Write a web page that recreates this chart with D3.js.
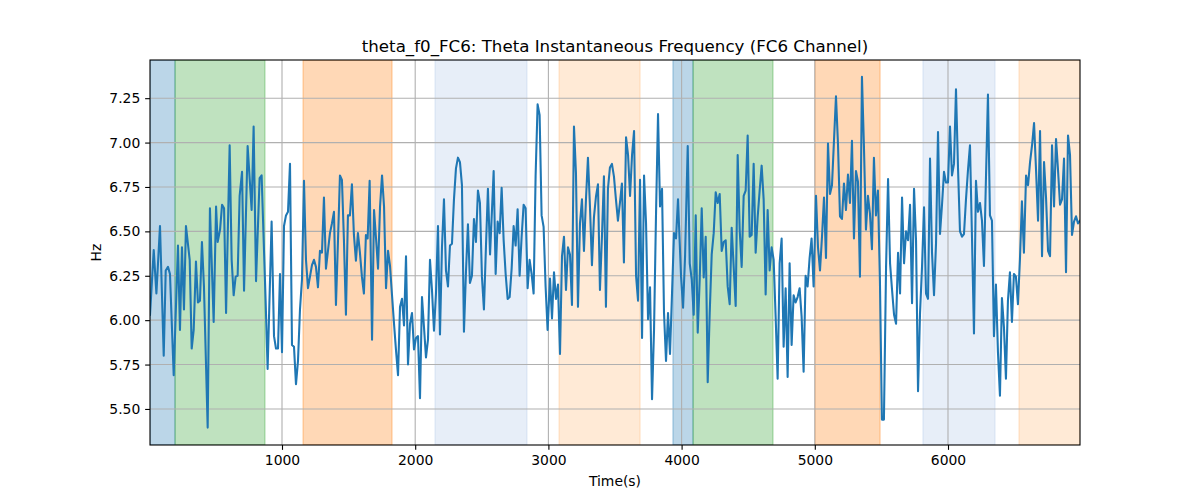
<!DOCTYPE html>
<html><head><meta charset="utf-8">
<script src="https://cdn.jsdelivr.net/npm/d3@7"></script>
<style>body{margin:0;background:#fff;} text{font-family:"DejaVu Sans",sans-serif;fill:#000;}</style>
</head><body>
<svg id="chart" width="1200" height="500"></svg>
<script>
const times = [9,37,57,84,112,127,144,159,187,219,234,249,264,279,307,322,337,354,369,384,399,414,442,459,487,505,517,535,550,565,580,607,622,637,652,667,682,700,715,742,772,787,805,832,847,877,892,922,940,955,970,985,1000,
1015,1030,1045,1060,1075,1090,1105,1120,1135,1150,1165,1180,1195,1210,1225,1240,1255,1270,1285,1300,1315,1330,1345,1360,1375,1390,1405,1420,1435,1450,1465,1480,1495,1510,1525,1540,1555,1570,1585,1600,1615,1630,1643,1658,1676,1691,1706,1721,1736,1751,1766,1781,1796,1811,1826,1841,1856,1871,1886,1901,1916,1931,1946,1961,1976,1991,
2006,2021,2036,2051,2066,2081,2096,2111,2126,2141,2156,2171,2186,2201,2216,2231,2246,2261,2276,2291,2306,2321,2336,2351,2366,2381,2396,2411,2426,2441,2456,2471,2486,2501,2516,2531,2546,2562,2577,2589,2604,2619,2634,2649,2664,2679,2694,2709,2724,2739,2754,2769,2784,2799,2814,2829,2844,2859,2874,2889,2904,2919,2934,2949,2964,2979,2994,
3012,3027,3042,3057,3072,3087,3102,3117,3132,3147,3162,3177,3192,3207,3222,3237,3252,3267,3282,3297,3312,3327,3342,3357,3372,3387,3402,3417,3432,3447,3462,3477,3492,3507,3522,3537,3552,3567,3583,3598,3613,3628,3643,3658,3673,3688,3703,3718,3733,3748,3763,3778,3793,3808,3823,3838,3853,3868,3883,3898,3913,3928,3943,3958,3973,
3996,4011,4026,4046,4061,4076,4091,4106,4121,4136,4151,4166,4181,4196,4211,4226,4241,4256,4271,4286,4301,4316,4331,4346,4361,4376,4391,4406,4421,4436,4451,4466,4481,4496,4511,4526,4541,4556,4571,4586,4601,4616,4631,4646,4661,4676,4691,4706,4721,4736,4751,4766,4781,4796,4811,4826,4841,4856,4871,4886,4901,4916,4931,4946,4961,4976,4991,
5009,5024,5039,5054,5069,5084,5099,5114,5129,5144,5159,5174,5189,5204,5219,5234,5249,5264,5279,5294,5309,5324,5339,5354,5369,5384,5399,5414,5429,5444,5459,5474,5489,5504,5519,5535,5550,5565,5580,5595,5610,5625,5640,5655,5670,5685,5700,5715,5730,5745,5760,5775,5790,5805,5820,5835,5850,5865,5880,5895,5910,5925,5940,5955,5970,5985,
6000,6015,6030,6045,6060,6075,6090,6105,6120,6135,6150,6165,6180,6195,6210,6225,6240,6255,6270,6285,6300,6315,6330,6345,6360,6375,6390,6405,6420,6435,6450,6465,6480,6495,6510,6525,6540,6555,6570,6586,6601,6616,6631,6646,6661,6676,6691,6706,6721,6736,6751,6766,6781,6796,6811,6826,6841,6856,6871,6886,6901,6916,6931,6946,6961,6976,6991];

const freqHz = [6.03,6.395,6.15,6.53,5.80,6.28,6.30,6.26,5.69,6.42,5.945,6.41,6.06,6.53,6.34,5.84,5.945,6.33,6.10,6.11,6.44,6.19,5.395,6.63,5.99,6.64,6.44,6.51,6.65,6.63,6.04,6.985,6.34,6.14,6.245,6.25,6.70,6.835,6.166,6.98,6.62,7.09,6.22,6.80,6.815,6.11,5.725,6.555,5.91,5.84,5.84,6.26,5.82,
6.53,6.59,6.61,6.88,5.86,5.85,5.64,5.77,6.06,6.23,6.785,6.34,6.18,6.245,6.31,6.34,6.30,6.185,6.39,6.38,6.69,6.29,6.39,6.49,6.545,6.61,6.085,6.44,6.815,6.79,6.45,6.03,6.59,6.59,6.765,6.48,6.335,6.49,6.38,6.245,6.15,6.48,6.46,6.785,5.89,6.62,6.46,6.29,6.64,6.815,6.64,6.18,6.39,6.305,6.14,5.98,5.83,5.69,6.075,6.12,5.97,6.36,5.75,5.98,6.04,5.835,
5.90,5.91,5.56,6.13,5.96,5.79,5.89,6.34,6.17,5.94,6.15,6.53,5.92,6.41,6.68,6.28,6.19,6.42,6.43,6.68,6.855,6.915,6.89,6.76,5.935,6.27,6.54,6.21,6.25,6.57,6.44,6.73,6.66,6.245,6.06,6.41,6.74,6.37,6.63,6.84,6.26,6.555,6.49,6.745,6.45,6.26,6.12,6.13,6.29,6.53,6.42,6.625,6.25,6.47,6.65,6.63,6.18,6.34,6.26,6.15,6.815,7.215,7.155,6.59,6.525,6.19,5.945,
6.235,6.01,6.27,6.12,6.20,5.81,6.36,6.47,6.17,6.41,6.37,6.085,7.09,6.825,6.075,6.545,6.68,6.39,6.68,6.915,6.64,6.31,6.58,6.695,6.765,6.17,6.47,6.81,6.075,6.74,6.86,6.88,6.81,6.68,6.56,6.66,6.77,6.325,7.03,6.93,6.70,6.93,7.065,6.25,6.11,6.79,5.90,6.815,6.545,6.005,6.185,5.555,5.945,6.60,7.16,6.64,6.74,6.04,5.77,6.04,5.81,6.15,6.49,6.46,6.68,
6.245,6.07,6.36,6.98,6.32,6.23,6.03,6.59,5.93,6.23,6.63,6.24,6.47,5.65,6.04,6.37,6.49,6.72,6.66,6.71,6.39,6.44,6.45,6.19,6.09,6.52,6.30,6.08,6.93,6.51,6.30,6.70,6.73,7.04,6.47,6.48,6.88,6.38,6.58,6.73,6.87,6.68,6.145,6.62,6.28,6.41,6.34,6.02,5.67,6.32,6.46,5.85,6.18,5.68,6.32,5.86,6.14,6.10,6.13,6.18,6.02,5.71,6.25,6.19,6.35,6.46,6.19,
6.70,6.41,6.28,6.47,6.69,6.35,6.995,6.71,6.76,7.01,7.26,6.995,6.585,6.57,6.77,6.62,6.82,6.66,7.01,6.46,6.84,6.78,6.245,7.37,6.975,6.51,6.70,6.60,6.40,6.915,6.59,6.73,6.22,5.44,5.44,6.30,6.795,6.32,6.17,6.03,5.98,6.38,6.15,6.69,6.32,6.50,6.45,6.65,6.095,6.74,6.45,5.60,6.04,6.30,6.635,6.15,6.12,6.91,6.38,6.14,6.43,7.06,6.485,6.65,6.835,6.775,
6.775,7.09,6.815,6.88,7.30,6.86,6.50,6.47,6.485,6.68,6.845,6.985,6.47,5.925,6.785,6.61,6.66,6.56,6.305,6.80,7.27,6.59,6.56,5.91,6.20,5.82,5.575,6.125,5.96,5.67,6.11,6.27,5.99,6.26,6.245,6.09,6.34,6.67,6.38,6.815,6.76,6.89,6.985,7.11,6.845,6.56,7.065,6.36,6.89,6.69,6.39,6.36,6.985,6.64,7.02,6.845,6.65,6.68,6.91,6.27,7.04,6.93,6.48,6.555,6.585,6.545,6.56];

const spanStarts = [9, 197, 1158, 2149, 3080, 3935, 4086, 5002, 5812, 6533];
const spanEnds   = [197, 872, 1826, 2839, 3688, 4086, 4686, 5490, 6353, 6991];
const spanKinds  = ["blue","green","orange","lightblue","lightorange","blue","green","orange","lightblue","lightorange"];

const xTicks = [1000, 2000, 3000, 4000, 5000, 6000];
const yTicks = [5.50, 5.75, 6.00, 6.25, 6.50, 6.75, 7.00, 7.25];
const yLimits = [5.297, 7.465];

const titleText = "theta_f0_FC6: Theta Instantaneous Frequency (FC6 Channel)";
const xLabelText = "Time(s)";
const yLabelText = "Hz";

const kindColor = {blue:"#1f77b4", green:"#2ca02c", orange:"#ff7f0e", lightblue:"#aec7e8", lightorange:"#ffbb78"};

const svg = d3.select("#chart");
const L = 150, R = 1080, T = 60, B = 445;
const x = d3.scaleLinear().domain(d3.extent(times)).range([L, R]);
const y = d3.scaleLinear().domain(yLimits).range([B, T]);

svg.append("defs").append("clipPath").attr("id","clip")
  .append("rect").attr("x",L).attr("y",T).attr("width",R-L).attr("height",B-T);

const spans = spanStarts.map((s,i)=>({s, e: spanEnds[i], k: spanKinds[i]}));
svg.append("g").attr("clip-path","url(#clip)").selectAll("rect").data(spans).join("rect")
  .attr("x", d=>x(d.s)).attr("width", d=>x(d.e)-x(d.s))
  .attr("y", T).attr("height", B-T)
  .attr("fill", d=>kindColor[d.k]).attr("fill-opacity",0.3)
  .attr("stroke", d=>kindColor[d.k]).attr("stroke-opacity",0.3).attr("stroke-width",1.4);

// grid
const grid = svg.append("g");
grid.selectAll(".gx").data(xTicks).join("line")
  .attr("x1",d=>x(d)).attr("x2",d=>x(d)).attr("y1",T).attr("y2",B)
  .attr("stroke","#b0b0b0").attr("stroke-width",1.1);
grid.selectAll(".gy").data(yTicks).join("line")
  .attr("y1",d=>y(d)).attr("y2",d=>y(d)).attr("x1",L).attr("x2",R)
  .attr("stroke","#b0b0b0").attr("stroke-width",1.1);

// line
const pts = times.map((t,i)=>[t, freqHz[i]]);
svg.append("path").datum(pts).attr("clip-path","url(#clip)")
  .attr("d", d3.line().x(d=>x(d[0])).y(d=>y(d[1])))
  .attr("fill","none").attr("stroke","#1f77b4").attr("stroke-width",2.08)
  .attr("stroke-linejoin","round").attr("stroke-linecap","square");

// axes
const xAxis = d3.axisBottom(x).tickValues(xTicks).tickFormat(d3.format("d")).tickSize(4.86).tickPadding(4.86);
const yAxis = d3.axisLeft(y).tickValues(yTicks).tickFormat(d3.format(".2f")).tickSize(4.86).tickPadding(4.86);
const gx = svg.append("g").attr("transform",`translate(0,${B})`).call(xAxis);
const gy = svg.append("g").attr("transform",`translate(${L},0)`).call(yAxis);
[gx, gy].forEach(g=>{
  g.select(".domain").remove();
  g.selectAll(".tick line").attr("stroke","#000").attr("stroke-width",1.1);
  g.selectAll(".tick text").attr("font-size","13.9px").attr("font-family","DejaVu Sans").attr("fill","#000");
});

// spines
svg.append("rect").attr("x",L).attr("y",T).attr("width",R-L).attr("height",B-T)
  .attr("fill","none").attr("stroke","#000").attr("stroke-width",1.1);

svg.append("text").attr("x",(L+R)/2).attr("y",52).attr("text-anchor","middle")
  .attr("font-size","16.67px").text(titleText);
svg.append("text").attr("x",(L+R)/2).attr("y",486).attr("text-anchor","middle")
  .attr("font-size","13.9px").text(xLabelText);
svg.append("text").attr("transform",`translate(101,${(T+B)/2}) rotate(-90)`).attr("text-anchor","middle")
  .attr("font-size","13.9px").text(yLabelText);
</script>
</body></html>
